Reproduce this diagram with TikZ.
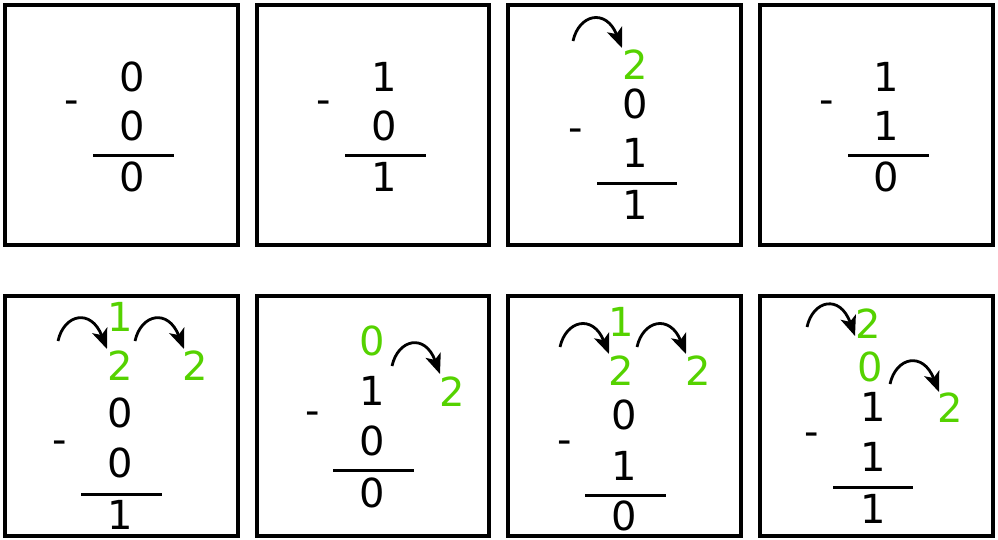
\documentclass[tikz,border=0pt]{standalone}
\usepackage{fontspec}
\setmainfont{DejaVu Sans}
\usetikzlibrary{arrows.meta}
\definecolor{grn}{RGB}{85,210,0}
\begin{document}
\begin{tikzpicture}[x=1pt,y=-1pt,
  panel/.style={draw=black,line width=3.2pt},
  dig/.style={inner sep=0pt,font=\fontsize{40}{46}\selectfont},
  gdig/.style={dig,text=grn},
  minus/.style={inner sep=0pt,anchor=base,font=\fontsize{40}{46}\selectfont},
  bar/.style={line width=3pt},
  carry/.style={line width=2.8pt,-{Stealth[length=20pt,width=16pt,inset=5pt]}}]
\useasboundingbox (0,0) rectangle (998,539);
% panels
\draw[panel] (5,5) rectangle (238,245);
\draw[panel] (257,5) rectangle (489,245);
\draw[panel] (508,5) rectangle (741,245);
\draw[panel] (760,5) rectangle (993,245);
\draw[panel] (5,296) rectangle (238,536);
\draw[panel] (257,296) rectangle (489,536);
\draw[panel] (508,296) rectangle (741,536);
\draw[panel] (760,296) rectangle (993,536);
% panel 1
\node[dig] (a1) at (132,77) {0};
\node[minus] (am) at (72,113) {-};
\node[dig] (a2) at (132,126) {0};
\coordinate (abl) at (93,155); \coordinate (abr) at (174,155);
\draw[bar] (abl) -- (abr);
\node[dig] (a3) at (132,177) {0};
% panel 2
\node[dig] (b1) at (384,77) {1};
\node[minus] (bm) at (324,113) {-};
\node[dig] (b2) at (384,126) {0};
\coordinate (bbl) at (345,155); \coordinate (bbr) at (426,155);
\draw[bar] (bbl) -- (bbr);
\node[dig] (b3) at (384,177) {1};
% panel 3
\node[gdig] (c0) at (635,65) {2};
\node[dig] (c1) at (635,104) {0};
\node[minus] (cm) at (576,141) {-};
\node[dig] (c2) at (635,153) {1};
\coordinate (cbl) at (597,183); \coordinate (cbr) at (677,183);
\draw[bar] (cbl) -- (cbr);
\node[dig] (c3) at (635,205) {1};
\coordinate (cs) at (573,41); \coordinate (ct) at (622,48);
\draw[carry] (cs) .. controls (579,14) and (606,8) .. (ct);
% panel 4
\node[dig] (d1) at (886,77) {1};
\node[minus] (dm) at (827,113) {-};
\node[dig] (d2) at (886,126) {1};
\coordinate (dbl) at (848,155); \coordinate (dbr) at (929,155);
\draw[bar] (dbl) -- (dbr);
\node[dig] (d3) at (886,177) {0};
% panel 5
\node[gdig] (e0) at (120,317) {1};
\node[gdig] (e1) at (120,366) {2};
\node[gdig] (e2) at (195,366) {2};
\node[dig] (e3) at (120,413) {0};
\node[minus] (em) at (60,453) {-};
\node[dig] (e4) at (120,463) {0};
\coordinate (ebl) at (81,494); \coordinate (ebr) at (162,494);
\draw[bar] (ebl) -- (ebr);
\node[dig] (e5) at (120,515) {1};
\coordinate (es1) at (58,341); \coordinate (et1) at (107,349);
\draw[carry] (es1) .. controls (64,314) and (91,308) .. (et1);
\coordinate (es2) at (135,341); \coordinate (et2) at (184,349);
\draw[carry] (es2) .. controls (141,314) and (168,308) .. (et2);
% panel 6
\node[gdig] (f0) at (372,341) {0};
\node[gdig] (f1) at (452,392) {2};
\node[dig] (f2) at (372,391) {1};
\node[minus] (fm) at (313,424) {-};
\node[dig] (f3) at (372,441) {0};
\coordinate (fbl) at (333,470); \coordinate (fbr) at (414,470);
\draw[bar] (fbl) -- (fbr);
\node[dig] (f4) at (372,493) {0};
\coordinate (fs) at (392,366); \coordinate (ft) at (440,374);
\draw[carry] (fs) .. controls (398,339) and (425,333) .. (ft);
% panel 7
\node[gdig] (g0) at (621,322) {1};
\node[gdig] (g1) at (621,371) {2};
\node[gdig] (g2) at (698,371) {2};
\node[dig] (g3) at (624,415) {0};
\node[minus] (gm) at (565,453) {-};
\node[dig] (g4) at (624,466) {1};
\coordinate (gbl) at (585,495); \coordinate (gbr) at (666,495);
\draw[bar] (gbl) -- (gbr);
\node[dig] (g5) at (624,516) {0};
\coordinate (gs1) at (560,347); \coordinate (gt1) at (609,354);
\draw[carry] (gs1) .. controls (566,320) and (593,314) .. (gt1);
\coordinate (gs2) at (637,347); \coordinate (gt2) at (686,354);
\draw[carry] (gs2) .. controls (643,320) and (670,314) .. (gt2);
% panel 8
\node[gdig] (h0) at (868,324) {2};
\node[gdig] (h1) at (870,367) {0};
\node[gdig] (h2) at (950,408) {2};
\node[dig] (h3) at (873,407) {1};
\node[minus] (hm) at (812,445) {-};
\node[dig] (h4) at (873,457) {1};
\coordinate (hbl) at (833,487); \coordinate (hbr) at (913,487);
\draw[bar] (hbl) -- (hbr);
\node[dig] (h5) at (873,509) {1};
\coordinate (hs1) at (807,327); \coordinate (ht1) at (855,336);
\draw[carry] (hs1) .. controls (813,300) and (840,294) .. (ht1);
\coordinate (hs2) at (890,384); \coordinate (ht2) at (939,392);
\draw[carry] (hs2) .. controls (896,357) and (923,351) .. (ht2);
\end{tikzpicture}
\end{document}
